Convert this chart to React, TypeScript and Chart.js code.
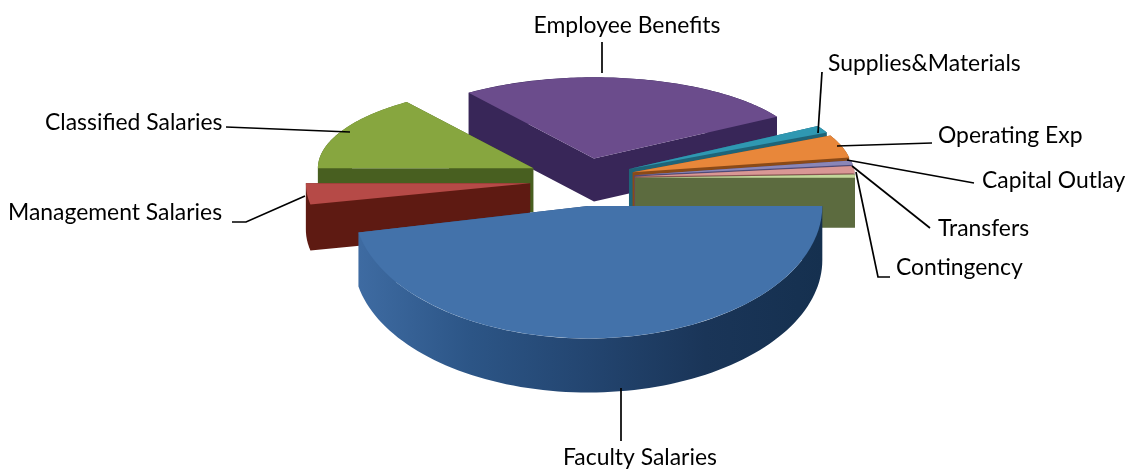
import React, { useEffect, useRef } from "react";
import { Chart, registerables } from "chart.js";

Chart.register(...registerables);

const categories = [
  "Faculty Salaries",
  "Management Salaries",
  "Classified Salaries",
  "Employee Benefits",
  "Supplies&Materials",
  "Operating Exp",
  "Capital Outlay",
  "Transfers",
  "Contingency",
];
const values = [46.8, 3.2, 15.0, 26.4, 1.4, 4.4, 0.8, 1.4, 0.6];

const topColors = ["#4372aa", "#b64a47", "#87a63f", "#6b4c8c", "#2f98b2", "#e8873a", "#8a86b8", "#d99795", "#c3d79b"];
const wallColors = ["#234570", "#5e1a12", "#485f20", "#382658", "#1f6478", "#8a4a18", "#4f4a78", "#8a5553", "#5c6b3f"];
const facultyWallStops = ["#15304f", "#1a3558", "#234570", "#2c5586", "#3f6ca3"];

// back-to-front painting order of the slices
const paintOrder = [3, 2, 4, 5, 6, 7, 8, 1, 0];
// the 3-D view: tilt (y squash), perspective size, wall depth and small view shifts of each slice
const tilt = [0.565, 0.47, 0.38, 0.38, 0.38, 0.38, 0.38, 0.38, 0.38];
const sizeScale = [1.065, 1.02, 0.98, 0.97, 1, 1, 1, 1, 1];
const depth = [54, 46, 44, 43, 50, 50, 50, 50, 50];
const shiftX = [-2, -5, -7, -1, 0, 0, 0, 0, 0];
const shiftY = [0, 3, -1, -1, 0, 0, 0, 0, 0];
const EXPLODE = 50;
const ARC_STEPS = 90;

const labelSpots = [
  { x: 640, y: 458, align: "center" },
  { x: 8, y: 213, align: "left" },
  { x: 45, y: 123, align: "left" },
  { x: 627, y: 26, align: "center" },
  { x: 828, y: 64, align: "left" },
  { x: 938, y: 136, align: "left" },
  { x: 982, y: 181, align: "left" },
  { x: 938, y: 229, align: "left" },
  { x: 896, y: 268, align: "left" },
];
const leaderLines = [
  [[621, 388], [621, 441]],
  [[232, 222], [246, 222], [305, 196]],
  [[226, 127], [350, 132]],
  [[602, 42], [602, 73]],
  [[822, 72], [818, 133]],
  [[932, 143], [837, 146]],
  [[974, 183], [847, 160]],
  [[930, 228], [852, 166]],
  [[890, 277], [878, 277], [856, 172]],
];

const pie3d = {
  id: "pie3d",
  beforeDatasetsDraw(chart: any) {
    const ctx = chart.ctx;
    const arcs = chart.getDatasetMeta(0).data;
    for (const i of paintOrder) {
      const arc = arcs[i];
      const mid = (arc.startAngle + arc.endAngle) / 2;
      const k = tilt[i];
      const s = sizeScale[i];
      const ox = arc.x + Math.cos(mid) * EXPLODE + shiftX[i];
      const oy = arc.y + Math.sin(mid) * EXPLODE * k + shiftY[i];
      const r = arc.outerRadius * s;

      // wall: the slice outline swept downwards as one path
      const outline: number[][] = [[ox, oy]];
      for (let n = 0; n <= ARC_STEPS; n++) {
        const a = arc.startAngle + ((arc.endAngle - arc.startAngle) * n) / ARC_STEPS;
        outline.push([ox + Math.cos(a) * r, oy + Math.sin(a) * r * k]);
      }
      const d = depth[i];
      ctx.beginPath();
      outline.forEach((p, n) => {
        const q = outline[(n + 1) % outline.length];
        // keep every quad's winding the same so overlaps never cancel
        const forward = q[0] >= p[0];
        const [a, b] = forward ? [p, q] : [q, p];
        ctx.moveTo(a[0], a[1]);
        ctx.lineTo(b[0], b[1]);
        ctx.lineTo(b[0], b[1] + d);
        ctx.lineTo(a[0], a[1] + d);
        ctx.closePath();
      });
      if (i === 0) {
        const g = ctx.createLinearGradient(ox + r, 0, ox - r, 0);
        facultyWallStops.forEach((c, n, all) => g.addColorStop(n / (all.length - 1), c));
        ctx.fillStyle = g;
      } else {
        ctx.fillStyle = wallColors[i];
      }
      ctx.fill();

      // top face: the library's own arc element
      ctx.save();
      ctx.translate(ox, oy);
      ctx.scale(s, k * s);
      ctx.translate(-arc.x, -arc.y);
      arc.draw(ctx);
      ctx.restore();
    }
    return false;
  },
  afterDraw(chart: any) {
    const ctx = chart.ctx;
    ctx.save();
    ctx.strokeStyle = "#000";
    ctx.lineWidth = 1.7;
    leaderLines.forEach((pts) => {
      ctx.beginPath();
      pts.forEach(([x, y], n) => (n ? ctx.lineTo(x, y) : ctx.moveTo(x, y)));
      ctx.stroke();
    });
    ctx.fillStyle = "#000";
    ctx.font = '22.9px Lato, "Open Sans", sans-serif';
    ctx.textBaseline = "middle";
    categories.forEach((name, i) => {
      const spot = labelSpots[i];
      ctx.textAlign = spot.align;
      ctx.fillText(name, spot.x, spot.y);
    });
    ctx.restore();
  },
};

export default function App() {
  const ref = useRef<HTMLCanvasElement>(null);
  useEffect(() => {
    const chart = new Chart(ref.current as HTMLCanvasElement, {
      type: "pie",
      data: {
        labels: categories,
        datasets: [{ data: values, backgroundColor: topColors, borderWidth: 0, radius: 220 } as any],
      },
      options: {
        animation: false,
        responsive: false,
        rotation: 90,
        layout: { padding: { left: 40, bottom: 114 } },
        plugins: { legend: { display: false }, tooltip: { enabled: false } },
      },
      plugins: [pie3d],
    } as any);
    return () => chart.destroy();
  }, []);
  return (
    <canvas
      ref={ref}
      width={1130}
      height={470}
      style={{ position: "fixed", left: 0, top: 0, width: 1130, height: 470, background: "#fff" }}
    />
  );
}
